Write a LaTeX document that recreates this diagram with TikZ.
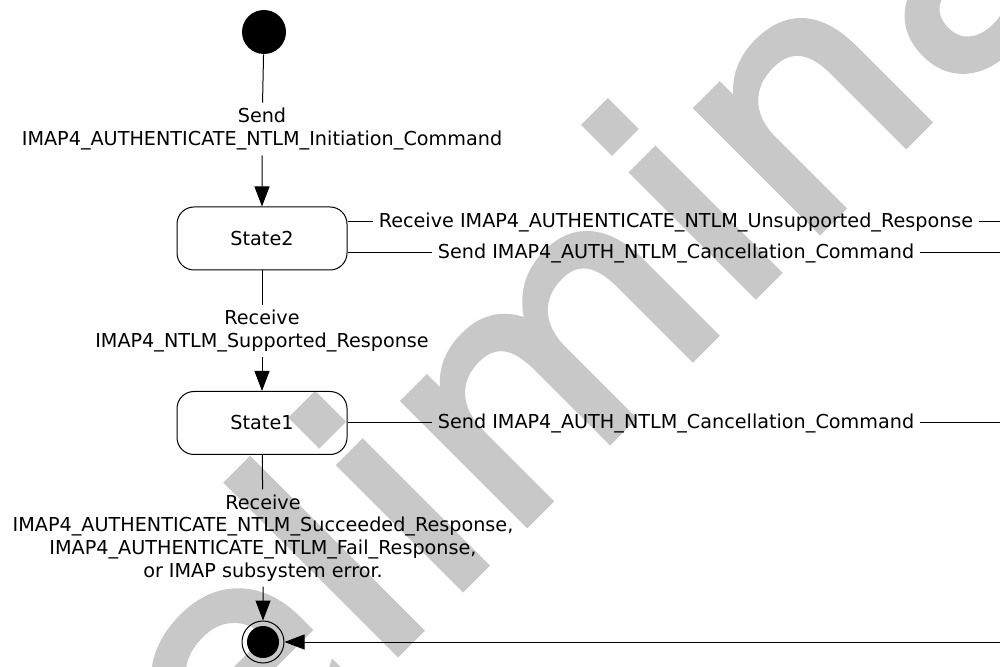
\documentclass[tikz,border=0pt]{standalone}
\usepackage{fontspec}
\setmainfont{DejaVu Sans}
\newfontfamily\wmfont[FakeBold=2.5]{DejaVu Sans}
\usepackage{xcolor}
\usepackage{tikz}
\usetikzlibrary{arrows.meta}

\definecolor{wmgray}{RGB}{200,200,200}

\begin{document}
\begin{tikzpicture}[
  x = 0.5pt, y = -0.5pt,
  every node/.style = {font=\fontsize{9.6}{11.3}\selectfont},
  statebox/.style = {rectangle, rounded corners=8.5pt, draw, line width=0.5pt,
                     minimum width=85pt, minimum height=31.5pt},
  startdot/.style = {circle, fill=black, minimum size=22pt, inner sep=0pt},
  enddot/.style   = {circle, draw, line width=0.5pt, minimum size=21pt,
                     inner sep=0pt,
                     path picture={\fill (path picture bounding box.center)
                                   circle (8pt);}},
  trans/.style    = {align=center, inner sep=2.5pt},
  wmark/.style    = {text=wmgray, inner sep=0pt,
                     font=\wmfont\fontsize{157.5}{160}\selectfont},
  arrow/.style    = {-{Triangle[length=10pt, width=7.5pt]}, line width=0.5pt},
  line/.style     = {line width=0.5pt}
]
\useasboundingbox (0,0) rectangle (1000,667);

% --- watermark ---
\begin{scope}
  \clip (0,0) rectangle (1000,667);
  \node[wmark, rotate=45, xscale=1.05, anchor=base west] (wm) at (4,1046)
    {Preliminary};
\end{scope}

% --- states (top to bottom) ---
\node[startdot]           (init)   at (264,32)  {};
\node[statebox]           (state2) at (262,238.5) {State2};
\node[statebox]           (state1) at (262,423) {State1};
\node[enddot]             (final)  at (263,642) {};

% --- transition labels ---
\node[trans] (lblA) at (262,129)
  {Send\\IMAP4\_AUTHENTICATE\_NTLM\_Initiation\_Command};
\node[trans] (lblB) at (262,331)
  {Receive\\IMAP4\_NTLM\_Supported\_Response};
\node[trans] (lblF) at (263,538)
  {Receive\\IMAP4\_AUTHENTICATE\_NTLM\_Succeeded\_Response,\\
   IMAP4\_AUTHENTICATE\_NTLM\_Fail\_Response,\\or IMAP subsystem error.};
\node[trans] (lblD) at (676,222)
  {Receive IMAP4\_AUTHENTICATE\_NTLM\_Unsupported\_Response};
\node[trans] (lblE) at (676,253)
  {Send IMAP4\_AUTH\_NTLM\_Cancellation\_Command};
\node[trans] (lblC) at (676,423)
  {Send IMAP4\_AUTH\_NTLM\_Cancellation\_Command};

% --- exits to the right edge ---
\coordinate (exitD) at (1000,222);
\coordinate (exitE) at (1000,253);
\coordinate (exitC) at (1000,423);
\coordinate (entry) at (1000,642);

% --- Arrows ---
\draw[arrow] (init)   -- (lblA) -- (state2);
\draw[arrow] (state2) -- (lblB) -- (state1);
\draw[arrow] (state1) -- (lblF) -- (final);

\draw[line] (state2.east |- lblD) -- (lblD) -- (exitD);
\draw[line] (state2.east |- lblE) -- (lblE) -- (exitE);
\draw[line] (state1.east |- lblC) -- (lblC) -- (exitC);
\draw[arrow] (entry) -- (final);

\end{tikzpicture}
\end{document}
